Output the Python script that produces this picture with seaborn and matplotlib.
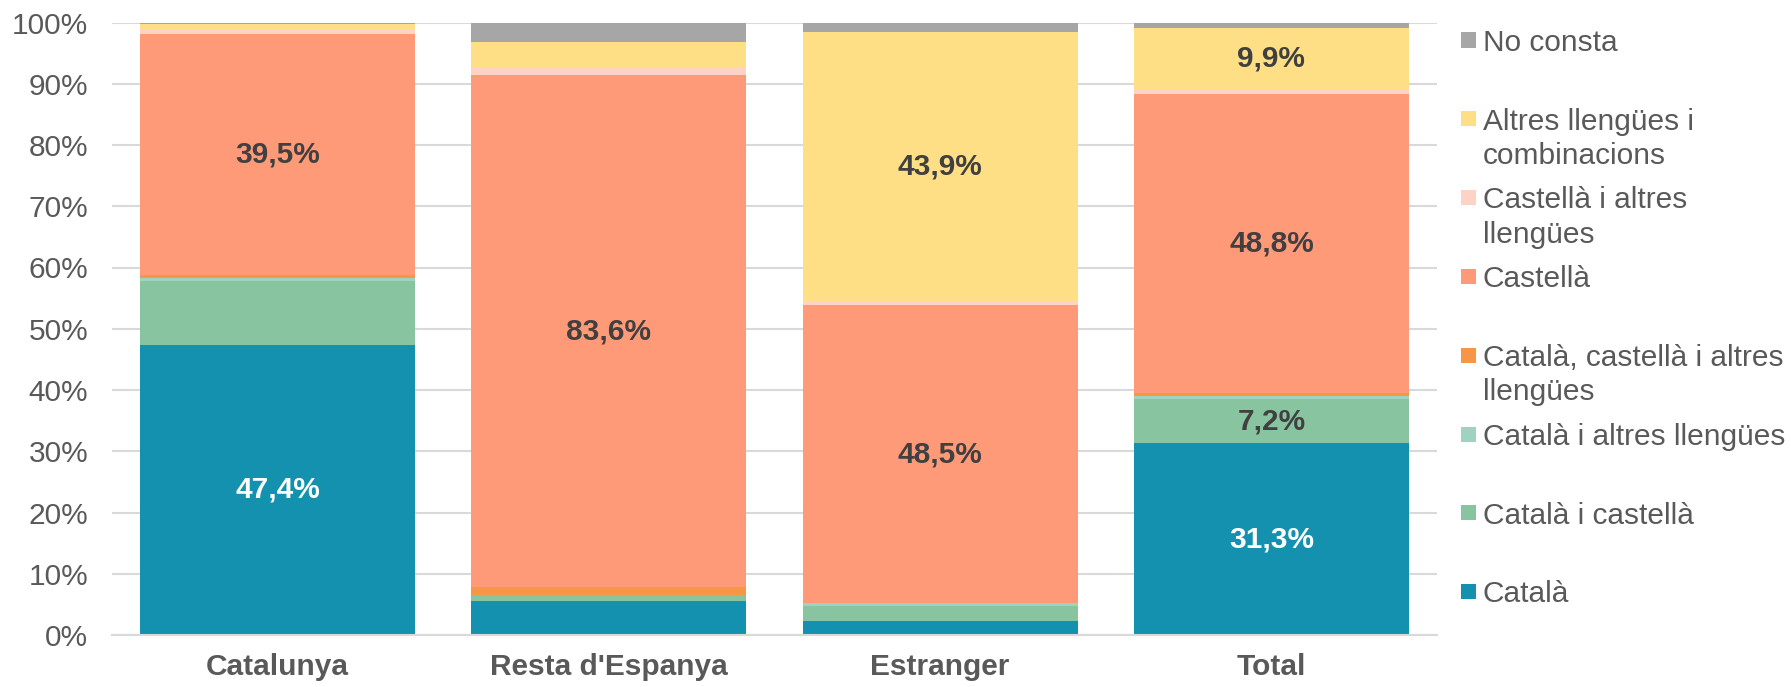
import numpy as np
import pandas as pd
import matplotlib
matplotlib.use("Agg")
import matplotlib.pyplot as plt
from matplotlib.patches import Rectangle
import seaborn as sns

# categories on the x axis
origens = ["Catalunya", "Resta d'Espanya", "Estranger", "Total"]

# series listed from top of stack to bottom (same order as the legend)
llengues = ["No consta", "Altres llengües i\ncombinacions", "Castellà i altres\nllengües",
            "Castellà", "Català, castellà i altres\nllengües", "Català i altres llengües",
            "Català i castellà", "Català"]
colors = ["#A6A6A6", "#FFDF86", "#FDD3C6", "#FF9A78", "#F79646", "#A0D2C2", "#88C4A0", "#1391AE"]

# percentages per origin, same order as llengues
no_consta = [0.3, 3.3, 1.6, 0.9]
altres = [0.7, 4.3, 43.9, 9.9]
castella_altres = [0.8, 1.1, 0.7, 0.9]
castella = [39.5, 83.6, 48.5, 48.8]
cat_cast_altres = [0.4, 1.2, 0.1, 0.4]
catala_altres = [0.5, 0.1, 0.4, 0.6]
catala_castella = [10.4, 0.9, 2.5, 7.2]
catala = [47.4, 5.6, 2.3, 31.3]

series = [no_consta, altres, castella_altres, castella,
          cat_cast_altres, catala_altres, catala_castella, catala]

# which segments carry a value label: (origin index, series index)
etiquetes = [(0, 7), (0, 3), (1, 3), (2, 3), (2, 1), (3, 7), (3, 6), (3, 3), (3, 1)]

rows = []
for lang, vals in zip(llengues, series):
    for orig, v in zip(origens, vals):
        rows.append({"origen": orig, "llengua": lang, "pct": v})
df = pd.DataFrame(rows)

sns.set_style("white")
plt.rcParams['font.family'] = ['Liberation Sans', 'DejaVu Sans']
GREY = "#595959"
FS = 21.5

fig = plt.figure(figsize=(17.91, 6.87), dpi=100)
ax = fig.add_axes([112 / 1791, 52 / 687, (1437 - 112) / 1791, 612.5 / 687])

sns.histplot(data=df, x="origen", hue="llengua", weights="pct", multiple="stack",
             hue_order=llengues, palette=colors, shrink=0.83, discrete=True,
             alpha=1, linewidth=0, legend=False, ax=ax)

ax.set_xlim(-0.5, 3.5)
ax.set_ylim(0, 100)
ax.set_yticks(np.arange(0, 101, 10))
ax.set_yticklabels(["{0}%".format(v) for v in range(0, 101, 10)])
ax.set_xticks(range(len(origens)))
ax.set_xticklabels(origens, fontweight="bold")
ax.set_xlabel("")
ax.set_ylabel("")
ax.yaxis.grid(True, color="#D9D9D9", linewidth=1.5)
ax.set_axisbelow(True)
for s in ["top", "right", "left"]:
    ax.spines[s].set_visible(False)
ax.spines["bottom"].set_color("#D9D9D9")
ax.spines["bottom"].set_linewidth(1.5)
ax.tick_params(axis="y", length=0, pad=17, labelsize=FS, labelcolor=GREY)
ax.tick_params(axis="x", length=0, pad=13, labelsize=FS, labelcolor=GREY)

# value labels at the middle of each chosen segment
stack = np.array(series)  # rows top->bottom
for oi, si in etiquetes:
    bottom = stack[si + 1:, oi].sum()
    v = stack[si, oi]
    col = "white" if si == 7 else "#404040"
    ax.text(oi, bottom + v / 2, "{0:.1f}%".format(v).replace(".", ","),
            ha="center", va="center", fontsize=FS, fontweight="bold", color=col)

# legend drawn by hand so squares sit on the first text line
W, H = 1791, 687
for i, (lab, c) in enumerate(zip(llengues, colors)):
    yc = 40 + i * 78.8
    fig.add_artist(Rectangle((1461 / W, 1 - (yc + 7.5) / H), 15 / W, 15 / H,
                             transform=fig.transFigure, color=c, lw=0))
    fig.text(1483 / W, 1 - (yc - 11.2) / H, lab, ha="left", va="top",
             fontsize=FS, color=GREY, linespacing=1.28)

fig.savefig("out.png", dpi=100)
